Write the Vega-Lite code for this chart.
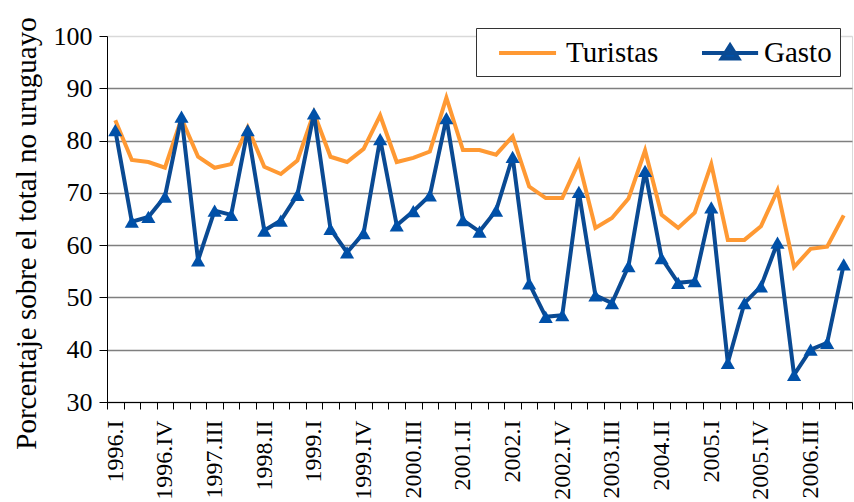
{
  "$schema": "https://vega.github.io/schema/vega-lite/v6.json",
  "autosize": "none",
  "width": 745,
  "height": 366,
  "padding": {"left": 107, "top": 36, "right": 2, "bottom": 100},
  "background": "white",
  "data": {
    "values": [
      {"q": "1996.I", "Turistas": 83.9, "Gasto": 82.0},
      {"q": "1996.II", "Turistas": 76.3, "Gasto": 64.5},
      {"q": "1996.III", "Turistas": 75.9, "Gasto": 65.4},
      {"q": "1996.IV", "Turistas": 74.8, "Gasto": 69.3},
      {"q": "1997.I", "Turistas": 84.2, "Gasto": 84.6},
      {"q": "1997.II", "Turistas": 76.9, "Gasto": 57.1},
      {"q": "1997.III", "Turistas": 74.8, "Gasto": 66.6},
      {"q": "1997.IV", "Turistas": 75.5, "Gasto": 65.8},
      {"q": "1998.I", "Turistas": 82.5, "Gasto": 82.0},
      {"q": "1998.II", "Turistas": 75.0, "Gasto": 62.8},
      {"q": "1998.III", "Turistas": 73.6, "Gasto": 64.7},
      {"q": "1998.IV", "Turistas": 76.2, "Gasto": 69.6},
      {"q": "1999.I", "Turistas": 85.3, "Gasto": 85.2},
      {"q": "1999.II", "Turistas": 76.9, "Gasto": 63.1},
      {"q": "1999.III", "Turistas": 75.9, "Gasto": 58.6},
      {"q": "1999.IV", "Turistas": 78.4, "Gasto": 62.3},
      {"q": "2000.I", "Turistas": 84.8, "Gasto": 80.3},
      {"q": "2000.II", "Turistas": 75.9, "Gasto": 63.8},
      {"q": "2000.III", "Turistas": 76.7, "Gasto": 66.5},
      {"q": "2000.IV", "Turistas": 77.9, "Gasto": 69.5},
      {"q": "2001.I", "Turistas": 88.2, "Gasto": 84.3},
      {"q": "2001.II", "Turistas": 78.2, "Gasto": 64.8},
      {"q": "2001.III", "Turistas": 78.2, "Gasto": 62.6},
      {"q": "2001.IV", "Turistas": 77.3, "Gasto": 66.6},
      {"q": "2002.I", "Turistas": 80.8, "Gasto": 76.9},
      {"q": "2002.II", "Turistas": 71.2, "Gasto": 52.7},
      {"q": "2002.III", "Turistas": 69.0, "Gasto": 46.3},
      {"q": "2002.IV", "Turistas": 69.0, "Gasto": 46.6},
      {"q": "2003.I", "Turistas": 75.9, "Gasto": 70.2},
      {"q": "2003.II", "Turistas": 63.3, "Gasto": 50.4},
      {"q": "2003.III", "Turistas": 65.2, "Gasto": 48.9},
      {"q": "2003.IV", "Turistas": 68.9, "Gasto": 56.0},
      {"q": "2004.I", "Turistas": 78.1, "Gasto": 74.2},
      {"q": "2004.II", "Turistas": 65.8, "Gasto": 57.5},
      {"q": "2004.III", "Turistas": 63.3, "Gasto": 52.8},
      {"q": "2004.IV", "Turistas": 66.2, "Gasto": 53.1},
      {"q": "2005.I", "Turistas": 75.5, "Gasto": 67.2},
      {"q": "2005.II", "Turistas": 61.0, "Gasto": 37.5},
      {"q": "2005.III", "Turistas": 61.0, "Gasto": 48.9},
      {"q": "2005.IV", "Turistas": 63.6, "Gasto": 52.1},
      {"q": "2006.I", "Turistas": 70.5, "Gasto": 60.5},
      {"q": "2006.II", "Turistas": 55.8, "Gasto": 35.2},
      {"q": "2006.III", "Turistas": 59.3, "Gasto": 40.0},
      {"q": "2006.IV", "Turistas": 59.7, "Gasto": 41.3},
      {"q": "2007.I", "Turistas": 65.7, "Gasto": 56.3}
    ]
  },
  "transform": [{"fold": ["Turistas", "Gasto"], "as": ["serie", "v"]}],
  "encoding": {
    "x": {
      "field": "q",
      "type": "ordinal",
      "sort": null,
      "bandPosition": 0.5,
      "scale": {"type": "band", "paddingInner": 0, "paddingOuter": 0},
      "axis": {
        "title": null,
        "tickBand": "extent",
        "labelAngle": -90,
        "labelFontSize": 24,
        "labelColor": "black",
        "labelPadding": 11,
        "labelOverlap": false,
        "labelBound": false,
        "tickSize": 7,
        "tickColor": "black",
        "domainColor": "black",
        "grid": false,
        "labelExpr": "indexof(['1996.I','1996.IV','1997.III','1998.II','1999.I','1999.IV','2000.III','2001.II','2002.I','2002.IV','2003.III','2004.II','2005.I','2005.IV','2006.III'], datum.value) >= 0 ? datum.value : ''"
      }
    },
    "y": {
      "field": "v",
      "type": "quantitative",
      "scale": {"domain": [30, 100], "nice": false, "zero": false},
      "axis": {
        "values": [30, 40, 50, 60, 70, 80, 90, 100],
        "title": "Porcentaje sobre el total no uruguayo",
        "titleFontSize": 29,
        "titleFontWeight": "normal",
        "titleColor": "black",
        "titleX": -66,
        "titleY": 197,
        "titleAngle": -90,
        "titleBaseline": "bottom",
        "titleAlign": "center",
        "labelFontSize": 26,
        "labelColor": "black",
        "labelPadding": 7,
        "tickSize": 8,
        "tickColor": "black",
        "domainColor": "black",
        "grid": true,
        "gridColor": {"condition": {"test": "datum.value === 100", "value": "#d9d9d9"}, "value": "#7f7f7f"},
        "gridWidth": 1.5
      }
    }
  },
  "layer": [
    {
      "mark": {"type": "line", "strokeWidth": 4},
      "encoding": {
        "color": {
          "field": "serie",
          "type": "nominal",
          "sort": ["Turistas", "Gasto"],
          "scale": {"domain": ["Turistas", "Gasto"], "range": ["#FF9933", "#0A4A93"]},
          "legend": {
            "title": null,
            "orient": "none",
            "legendX": 369,
            "legendY": -8,
            "direction": "horizontal",
            "strokeColor": "#333333",
            "fillColor": "white",
            "padding": 8,
            "labelFontSize": 29,
            "labelColor": "black",
            "symbolSize": 900,
            "symbolStrokeWidth": 4,
            "labelOffset": 48,
            "columnPadding": 23,
            "encode": {
              "symbols": {
                "update": {
                  "shape": {"signal": "datum.value === 'Gasto' ? 'M0.2,0H3.94M1.52,0.37L2.07,-0.5L2.62,0.37Z' : 'M-0.13,0H3.67'"},
                  "fill": {"signal": "datum.value === 'Gasto' ? '#0050A8' : 'transparent'"},
                  "stroke": {"signal": "datum.value === 'Gasto' ? '#0A4A93' : '#FF9933'"},
                  "strokeWidth": {"value": 4},
                  "opacity": {"value": 1}
                }
              }
            }
          }
        }
      }
    },
    {
      "transform": [{"filter": "datum.serie === 'Gasto'"}],
      "mark": {"type": "point", "shape": "triangle-up", "filled": true, "size": 200, "color": "#0050A8", "opacity": 1},
      "encoding": {}
    }
  ],
  "config": {
    "view": {"stroke": "#d9d9d9", "strokeWidth": 1},
    "font": "Liberation Serif, Times New Roman, DejaVu Serif, serif",
    "axis": {"labelFont": "Liberation Serif, Times New Roman, DejaVu Serif, serif", "titleFont": "Liberation Serif, Times New Roman, DejaVu Serif, serif"},
    "legend": {"labelFont": "Liberation Serif, Times New Roman, DejaVu Serif, serif"}
  }
}
